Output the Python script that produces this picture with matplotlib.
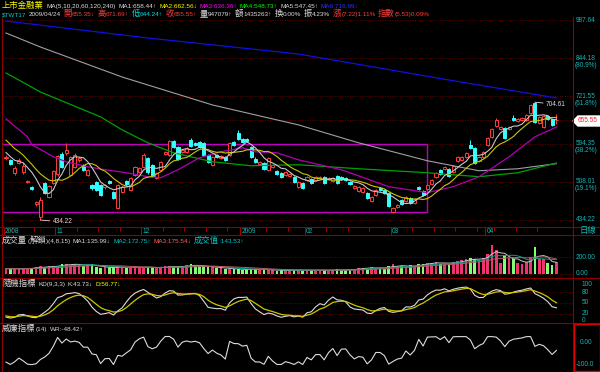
import numpy as np
import pandas as pd
import matplotlib
matplotlib.use('Agg')
import matplotlib.pyplot as plt
import matplotlib.transforms as mtrans
from matplotlib import font_manager
from matplotlib.patches import Rectangle, Polygon
from matplotlib.lines import Line2D

installed = {f.name for f in font_manager.fontManager.ttflist}
if 'Liberation Sans Narrow' in installed:
    plt.rcParams['font.family'] = ['Liberation Sans Narrow', 'Noto Sans CJK TC', 'DejaVu Sans']
    FS, FS_HEAD = 5.4, 5.3
else:
    plt.rcParams['font.family'] = ['Liberation Sans', 'Noto Sans CJK TC', 'DejaVu Sans']
    FS, FS_HEAD = 4.7, 4.6
FS_CJK = 6.0

W, H = 600, 372

# ---- daily candles (上市金融業, 2008/10/16 - 2009/04/24) ----
opens = [560.7, 556.1, 527.3, 549.3, 529.4, 508.2, 498.0, 464.5, 440.4, 506.2,
         478.0, 506.2, 525.1, 570.0, 572.3, 523.0, 540.4, 556.1, 544.9, 523.0,
         502.0, 508.2, 502.0, 498.0, 510.3, 487.8, 456.9, 487.8, 510.3, 491.9,
         523.0, 529.4, 540.4, 560.7, 544.9, 516.6, 533.8, 570.0, 567.7, 601.2,
         586.6, 574.7, 574.7, 603.6, 596.3, 598.7, 596.3, 567.7, 544.9, 567.7,
         560.7, 563.0, 567.7, 598.7, 621.2, 606.1, 606.1, 586.6, 558.4, 547.1,
         549.3, 533.8, 540.4, 531.6, 527.3, 523.0, 520.8, 518.7, 498.0, 506.2,
         512.4, 514.5, 512.4, 516.6, 518.7, 514.5, 510.3, 520.8, 518.7, 516.6,
         508.2, 495.9, 489.9, 487.8, 485.9, 470.2, 481.9, 495.9, 491.9, 485.9,
         449.5, 458.8, 472.1, 470.2, 476.0, 466.4, 498.0, 489.9, 493.9, 504.1,
         518.7, 533.8, 536.0, 536.0, 529.4, 553.9, 556.1, 563.0, 591.4, 584.2,
         553.9, 563.0, 591.4, 611.1, 639.3, 631.5, 634.1, 631.5, 660.6, 652.5,
         655.2, 655.2, 674.2, 702.5, 647.2, 636.7, 666.0, 657.9, 655.35]
highs = [567.7, 558.4, 542.6, 560.7, 549.3, 512.4, 500.0, 470.2, 478.0, 508.2,
         502.0, 533.8, 567.7, 574.7, 596.3, 565.3, 572.3, 563.0, 547.1, 536.0,
         504.1, 510.3, 504.1, 504.1, 512.4, 489.9, 504.1, 500.0, 512.4, 518.7,
         542.6, 540.4, 572.3, 563.0, 547.1, 529.4, 553.9, 577.0, 603.6, 603.6,
         589.0, 581.8, 586.6, 608.6, 598.7, 601.2, 598.7, 570.0, 565.3, 570.0,
         567.7, 565.3, 598.7, 601.2, 628.9, 608.6, 608.6, 589.0, 563.0, 553.9,
         551.6, 563.0, 547.1, 533.8, 529.4, 531.6, 527.3, 520.8, 510.3, 508.2,
         520.8, 516.6, 520.8, 520.8, 520.8, 518.7, 518.7, 523.0, 520.8, 518.7,
         510.3, 502.0, 500.0, 498.0, 487.8, 479.9, 493.9, 498.0, 493.9, 487.8,
         458.8, 464.5, 474.1, 479.9, 478.0, 476.0, 500.0, 491.9, 504.1, 514.5,
         529.4, 536.0, 542.6, 538.2, 544.9, 565.3, 565.3, 574.7, 603.6, 586.6,
         565.3, 577.0, 611.1, 634.1, 660.6, 639.3, 636.7, 639.3, 668.7, 660.6,
         663.3, 671.5, 699.6, 704.61, 666.0, 668.7, 668.7, 660.6, 671.69]
lows = [556.1, 544.9, 523.0, 547.1, 525.1, 506.2, 491.9, 460.7, 434.22, 483.9,
        476.0, 504.1, 520.8, 538.2, 567.7, 520.8, 538.2, 551.6, 531.6, 520.8,
        491.9, 489.9, 479.9, 493.9, 504.1, 474.1, 455.1, 485.9, 500.0, 489.9,
        520.8, 527.3, 538.2, 525.1, 518.7, 514.5, 531.6, 567.7, 565.3, 584.2,
        556.1, 572.3, 572.3, 586.6, 589.0, 584.2, 565.3, 549.3, 542.6, 560.7,
        558.4, 553.9, 565.3, 589.0, 603.6, 596.3, 598.7, 560.7, 549.3, 544.9,
        533.8, 531.6, 538.2, 523.0, 516.6, 520.8, 518.7, 506.2, 495.9, 493.9,
        510.3, 504.1, 510.3, 514.5, 504.1, 512.4, 508.2, 504.1, 512.4, 510.3,
        502.0, 493.9, 487.8, 485.9, 474.1, 468.3, 479.9, 489.9, 483.9, 458.8,
        447.7, 456.9, 462.6, 468.3, 464.5, 464.5, 491.9, 479.9, 491.9, 502.0,
        516.6, 523.0, 533.8, 518.7, 527.3, 551.6, 553.9, 560.7, 581.8, 547.1,
        551.6, 560.7, 589.0, 608.6, 636.7, 628.9, 606.1, 628.9, 652.5, 649.8,
        652.5, 652.5, 671.5, 647.2, 644.5, 634.1, 655.2, 639.3, 644.24]
closes = [563.0, 547.1, 538.2, 556.1, 542.6, 510.3, 493.9, 468.3, 472.1, 485.9,
          500.0, 531.6, 565.3, 540.4, 579.4, 563.0, 567.7, 560.7, 533.8, 533.8,
          495.9, 491.9, 481.9, 502.0, 506.2, 476.0, 502.0, 498.0, 504.1, 516.6,
          540.4, 538.2, 567.7, 529.4, 520.8, 527.3, 551.6, 574.7, 601.2, 586.6,
          558.4, 579.4, 584.2, 589.0, 591.4, 586.6, 567.7, 551.6, 563.0, 563.0,
          565.3, 556.1, 596.3, 591.4, 606.1, 598.7, 601.2, 563.0, 551.6, 551.6,
          536.0, 560.7, 544.9, 525.1, 518.7, 529.4, 525.1, 508.2, 508.2, 495.9,
          518.7, 506.2, 518.7, 518.7, 506.2, 516.6, 516.6, 506.2, 514.5, 512.4,
          504.1, 500.0, 498.0, 495.9, 476.0, 478.0, 491.9, 491.9, 485.9, 460.7,
          456.9, 462.6, 464.5, 478.0, 466.4, 474.1, 493.9, 481.9, 502.0, 512.4,
          527.3, 525.1, 540.4, 520.8, 542.6, 563.0, 563.0, 572.3, 584.2, 549.3,
          563.0, 574.7, 608.6, 631.5, 655.2, 636.7, 608.6, 636.7, 655.2, 657.9,
          660.6, 668.7, 696.7, 649.8, 663.3, 666.0, 657.9, 641.9, 655.55]
volumes = [60, 55, 65, 50, 60, 70, 65, 75, 85,
           80, 85, 90, 95,
           110, 120, 100, 115, 105, 95, 100, 110,
           80, 70, 75, 65, 80, 85, 70, 65, 75, 80,
           70, 75, 80, 70, 65, 75, 85, 95, 80, 75,
           90, 100, 110, 95, 85, 90, 80, 75, 70, 65,
           55, 60, 50, 55, 45, 50, 55, 50, 45, 50,
           45, 40, 35, 40, 35, 40, 45, 40, 35,
           45, 40, 35, 40, 45, 35, 40, 50, 45, 40, 45,
           60, 65, 70, 60, 75, 65, 70, 60,
           95, 110, 85, 90, 80, 100, 90,
           110, 120, 130, 125, 140, 115, 130, 120, 135, 150,
           160, 170, 185, 175, 165, 190,
           240, 350, 280, 130, 220, 190, 170, 130, 110, 140, 200, 320, 180, 170,
           130, 100, 143.53]

# sessions just before the window (needed for MA5/MA10 and KD/WR windows)
prior_closes = [650, 640, 630, 625, 620, 595, 580, 570, 557]
prior_highs = [662, 655, 645, 636, 632, 622, 598, 585, 572]
prior_lows = [640, 632, 624, 615, 606, 590, 575, 560, 552]

# long moving averages
ma20_idx = [0, 5, 6, 9, 11, 14, 19, 23, 28, 33, 36, 40, 45, 50, 55, 58, 63, 68,
            78, 89, 98, 104, 110, 117, 123, 128]
ma20_val = [657.9, 611.1, 591.4, 574.7, 563.0, 551.6, 540.4, 533.8, 527.3, 518.7,
            516.6, 533.8, 560.7, 574.7, 584.2, 574.7, 572.3, 556.1, 533.8, 498.0,
            485.9, 498.0, 518.7, 563.0, 611.1, 636.36]
ma60_idx = [0, 8, 22, 27, 33, 39, 48, 57, 68, 82, 98, 110, 119, 128]
ma60_val = [794.5, 734.8, 663.3, 628.9, 596.3, 572.3, 551.6, 542.6, 544.9, 536.0,
            527.3, 518.7, 527.3, 548.73]
ma120_idx = [0, 8, 27, 48, 68, 82, 98, 110, 119, 128]
ma120_val = [936.4, 884.0, 781.5, 696.7, 641.9, 596.3, 553.9, 531.6, 536.0, 547.45]
ma240_idx = [0, 33, 68, 103, 128]
ma240_val = [983.7, 917.4, 859.0, 771.9, 716.99]

month_labels = ['2008', '11', '12', '2009', '02', '03', '04']
month_idx = [0, 12, 32, 55, 70, 90, 112]
week_idx = [2, 7, 17, 22, 27, 37, 42, 47, 52, 56, 61, 66, 75, 80, 85, 95, 100,
            105, 110, 114, 119, 124]

price_levels = [987.64, 844.18, 721.55, 594.35, 508.01, 434.22]
level_pcts = ['', '(80.9%)', '(61.8%)', '(38.2%)', '(19.1%)', '']
last_close = 655.55
box_right, box_top, box_bottom = 98, 594.35, 449.5

RED = '#ff3c3c'
CYAN = '#33ffff'
TEAL = '#18b4b4'
GRID = '#8c0000'
FRAME = '#8c0000'
WHITE = '#dcdcdc'
YEL = '#c8c800'

n = len(closes)
x = np.arange(n)
o, h, l, c = map(np.array, (opens, highs, lows, closes))
up = c >= o
XL = (-0.93, 131.86)


def rect(x0, y0, x1, y1):
    return [x0 / W, 1 - y1 / H, (x1 - x0) / W, (y1 - y0) / H]


def panel(r):
    a = fig.add_axes(r)
    a.set_facecolor('black')
    a.set_xlim(*XL)
    for s in a.spines.values():
        s.set_visible(False)
    a.set_xticks([])
    a.set_yticks([])
    return a


def ftext(px, py, s, color, **kw):
    kw.setdefault('fontsize', FS)
    return fig.text(px / W, 1 - py / H, s, color=color, va=kw.pop('va', 'center'),
                    ha=kw.pop('ha', 'left'), **kw)


def runs(s):
    # split a label into CJK / non-CJK pieces so the CJK glyphs can be drawn larger
    out = []
    for ch in s:
        big = ord(ch) >= 0x2E80
        if out and out[-1][1] == big:
            out[-1][0] += ch
        else:
            out.append([ch, big])
    return out


def text_row(py, tokens, x0=2, gap=2.6):
    rend = fig.canvas.get_renderer()
    px = x0
    for s, col in tokens:
        for piece, big in runs(s):
            t = ftext(px, py + 2.6, piece, col, va='baseline',
                      fontsize=FS_CJK if big else FS_HEAD)
            px += t.get_window_extent(renderer=rend).width
        px += gap


def fline(xs, ys, color=FRAME, lw=0.8):
    fig.add_artist(Line2D([v / W for v in xs], [1 - v / H for v in ys], color=color, lw=lw))


fig = plt.figure(figsize=(6, 3.72), dpi=100, facecolor='black')

# ---------------- price panel ----------------
ax = panel(rect(2, 17, 573, 227))
ax.set_yscale('log')
ax.set_ylim(421.9, 1000.0)
ax.yaxis.set_minor_locator(matplotlib.ticker.NullLocator())
ax.set_yticks([])

for lvl in price_levels + [last_close]:
    ax.axhline(lvl, color=GRID, lw=0.6, ls=(0, (1, 2)), zorder=1)

ax.add_patch(Rectangle((XL[0], box_bottom), box_right - XL[0], box_top - box_bottom,
                       fill=False, edgecolor='#c000c0', lw=1.0, zorder=2))

ax.vlines(x, l, h, colors=np.where(up, RED, CYAN), lw=0.7, zorder=3)
lo_b, hi_b = np.minimum(o, c), np.maximum(o, c)
ax.bar(x[up], hi_b[up] - lo_b[up], bottom=lo_b[up], width=0.72,
       facecolor='black', edgecolor=RED, lw=0.7, zorder=4)
ax.bar(x[~up], hi_b[~up] - lo_b[~up], bottom=lo_b[~up], width=0.72,
       facecolor=CYAN, edgecolor=CYAN, lw=0.7, zorder=4)

full_c = pd.Series(prior_closes + closes)
ma5 = full_c.rolling(5).mean().to_numpy()[len(prior_closes):]
ma10 = full_c.rolling(10).mean().to_numpy()[len(prior_closes):]
ax.plot(ma240_idx, ma240_val, color='#1010e0', lw=0.9, zorder=5)
ax.plot(ma120_idx, ma120_val, color='#a0a0a0', lw=0.8, zorder=5)
ax.plot(ma60_idx, ma60_val, color='#00a000', lw=0.9, zorder=5)
ax.plot(ma20_idx, ma20_val, color='#b000b0', lw=0.9, zorder=5)
ax.plot(x, ma10, color=YEL, lw=0.8, zorder=5)
ax.plot(x, ma5, color='#c8c8c8', lw=0.8, zorder=5)

i_lo = int(np.argmin(l))
i_hi = int(np.argmax(h))
ax.annotate(f'{l[i_lo]:.2f}', xy=(i_lo, l[i_lo]), xytext=(12, -2), textcoords='offset pixels',
            color=WHITE, fontsize=FS, va='center', ha='left',
            arrowprops=dict(arrowstyle='-', color=WHITE, lw=0.6, shrinkA=0, shrinkB=0))
ax.annotate(f'{h[i_hi]:.2f}', xy=(i_hi, h[i_hi]), xytext=(11, -2), textcoords='offset pixels',
            color=WHITE, fontsize=FS, va='center', ha='left',
            arrowprops=dict(arrowstyle='-', color=WHITE, lw=0.6, shrinkA=0, shrinkB=0))

tr = mtrans.blended_transform_factory(fig.transFigure, ax.transData)
for lvl, pct in zip(price_levels, level_pcts):
    ax.text(576 / W, lvl, f'{lvl:.2f}', transform=tr, color=TEAL, fontsize=FS,
            va='center', ha='left', clip_on=False)
    if pct:
        ax.annotate(pct, xy=(575 / W, lvl), xycoords=tr, xytext=(0, -7),
                    textcoords='offset pixels', color=TEAL, fontsize=FS, va='center', ha='left')

# current price tag
fig.add_artist(Polygon([(573 / W, 1 - 121 / H), (578 / W, 1 - 116 / H), (600 / W, 1 - 116 / H),
                        (600 / W, 1 - 126 / H), (578 / W, 1 - 126 / H)], closed=True,
                       facecolor='white', edgecolor='white', transform=fig.transFigure))
ftext(578, 121, f'{last_close:.2f}', '#ff2020')

# ---------------- date strip ----------------
ad = panel(rect(2, 227, 573, 235))
ad.set_ylim(0, 1)
ad.vlines(np.array(month_idx) - 0.5, 0, 1, color='#b00000', lw=0.7)
ad.vlines(np.array(week_idx) - 0.5, 0.55, 1, color='#b00000', lw=0.7)
for lab, i in zip(month_labels, month_idx):
    ad.text(i - 0.2, 0.45, lab, color=TEAL, fontsize=FS, va='center', ha='left')
ftext(580, 231, '日線', TEAL, fontsize=FS_CJK)

# ---------------- volume panel ----------------
av = panel(rect(2, 235, 573, 278))
av.set_ylim(-54.5, 466.7)
for lvl in (0, 200):
    av.axhline(lvl, color=GRID, lw=0.6, ls=(0, (1, 2)), zorder=1)
av.bar(x, volumes, width=0.62, color=np.where(up, '#ee3370', '#80ff70'), zorder=2)
vs = pd.Series(volumes)
av.plot(x, vs.rolling(4, min_periods=1).mean(), color='#c8c8c8', lw=0.7, zorder=3)
av.plot(x, vs.rolling(8, min_periods=1).mean(), color='#00a08c', lw=0.7, zorder=3)
av.plot(x, vs.rolling(15, min_periods=1).mean(), color='#b06060', lw=0.7, zorder=3)
trv = mtrans.blended_transform_factory(fig.transFigure, av.transData)
for v in (200, 0):
    av.text(576 / W, v, f'{v:.2f}', transform=trv, color=TEAL, fontsize=FS,
            va='center', ha='left', clip_on=False)

# ---------------- KD panel ----------------
full_h = pd.Series(prior_highs + highs)
full_l = pd.Series(prior_lows + lows)
low9 = full_l.rolling(9, min_periods=1).min()
high9 = full_h.rolling(9, min_periods=1).max()
rsv = ((full_c - low9) / (high9 - low9) * 100).to_numpy()
k_vals, d_vals = [], []
kp, dp = 20.0, 30.0
for r in rsv:
    kp = kp * 2 / 3 + r / 3
    dp = dp * 2 / 3 + kp / 3
    k_vals.append(kp)
    d_vals.append(dp)
k_vals = np.array(k_vals[len(prior_closes):])
d_vals = np.array(d_vals[len(prior_closes):])

ak = panel(rect(2, 278, 573, 323))
ak.set_ylim(-6.4, 119.6)
for lvl in (80, 50, 20):
    ak.axhline(lvl, color=GRID, lw=0.6, ls=(0, (1, 2)), zorder=1)
ak.plot(x, k_vals, color=WHITE, lw=0.8, zorder=3)
ak.plot(x, d_vals, color=YEL, lw=0.9, zorder=3)
trk = mtrans.blended_transform_factory(fig.transFigure, ak.transData)
for v in (100, 80, 50, 20, 0):
    ak.text(582 / W, v, f'{v}', transform=trk, color=TEAL, fontsize=FS,
            va='center', ha='left', clip_on=False)

# ---------------- WR panel ----------------
high14 = full_h.rolling(14, min_periods=1).max()
low14 = full_l.rolling(14, min_periods=1).min()
wr = ((high14 - full_c) / (high14 - low14) * -100).to_numpy()[len(prior_closes):]

aw = panel(rect(2, 323, 573, 371))
aw.set_ylim(-120.7, 44.8)
aw.plot(x, wr, color=WHITE, lw=0.8, zorder=3)
ftext(580, 342, '0.00', TEAL)
ftext(576, 364, '-100.0', TEAL)

# ---------------- frames ----------------
for yy in (227, 235, 278, 323):
    fline([0, 600], [yy, yy])
fline([573, 573], [17, 372])
fline([1.5, 1.5], [17, 372])
fline([1.5, 600], [371.5, 371.5], color='#c00000')
fline([574, 599.5, 599.5, 574, 574], [324, 324, 371, 371, 324], color='#e00000', lw=1.0)

# ---------------- header texts ----------------
row1 = [('上市金融業', '#ffff00'), ('MA(5,10,20,60,120,240)', WHITE),
        ('MA1:658.44↑', WHITE), ('MA2:662.56↓', '#ffff00'),
        ('MA3:636.36↑', '#ff00ff'), ('MA4:548.73↑', '#00ff00'),
        ('MA5:547.45↑', WHITE), ('MA6:716.99↓', '#3030ff')]
row2 = [('$TWT17', '#00c8c8'), ('2009/04/24', WHITE), ('開655.35↓', RED),
        ('高671.69↑', RED), ('低644.24↑', '#00e0e0'), ('收655.55↑', RED),
        ('量947079↑', WHITE), ('額1435263↑', WHITE), ('換0.00%', WHITE),
        ('振4.23%', WHITE), ('漲(7.22)1.11%', RED), ('指數(5.53)0.09%', RED)]
vol_head = [('成交量(解鎖)(4,8,15)', WHITE), ('MA1:135.99↓', WHITE),
            ('MA2:172.75↑', '#00c8c8'), ('MA3:175.54↓', '#ff6060'),
            ('成交值:143.53↑', '#00c8c8')]
kd_head = [('隨機指標', WHITE), ('KD(9,3,3)', WHITE), ('K:43.73↓', WHITE),
           ('D:56.77↓', '#ffff00')]
wr_head = [('威廉指標(14)', WHITE), ('WR:-48.42↑', WHITE)]

text_row(5, row1)
text_row(13.5, row2)
text_row(240, vol_head)
text_row(283, kd_head)
text_row(328, wr_head)

fig.savefig('out.png', dpi=100, facecolor='black')
